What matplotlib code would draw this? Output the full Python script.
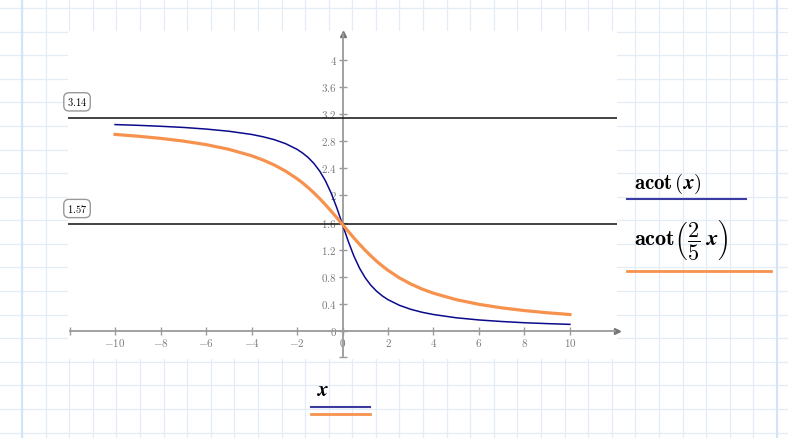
import matplotlib.pyplot as plt

plt.rcParams['mathtext.fontset'] = 'cm'
plt.rcParams['font.family'] = 'DejaVu Serif'

# values
x_vals = [-10, -9, -8, -7, -6, -5, -4, -3.5, -3, -2.5, -2, -1.75, -1.5, -1.25, -1, -0.75, -0.5, -0.25,
          0, 0.25, 0.5, 0.75, 1, 1.25, 1.5, 1.75, 2, 2.5, 3, 3.5, 4, 5, 6, 7, 8, 9, 10]
acot_x = [3.042, 3.031, 3.017, 3.000, 2.976, 2.944, 2.897, 2.863, 2.820, 2.761, 2.678, 2.622, 2.554,
          2.467, 2.356, 2.214, 2.034, 1.816,
          1.571, 1.326, 1.107, 0.927, 0.785, 0.675, 0.588, 0.519, 0.464, 0.381, 0.322, 0.278, 0.245,
          0.197, 0.165, 0.142, 0.124, 0.111, 0.100]
acot_2x5 = [2.897, 2.871, 2.839, 2.799, 2.747, 2.678, 2.583, 2.521, 2.447, 2.356, 2.245, 2.182, 2.111,
            2.034, 1.951, 1.862, 1.768, 1.671,
            1.571, 1.471, 1.373, 1.279, 1.190, 1.107, 1.030, 0.960, 0.896, 0.785, 0.695, 0.620, 0.559,
            0.464, 0.395, 0.343, 0.303, 0.271, 0.245]

x_ticks = [-10, -8, -6, -4, -2, 0, 2, 4, 6, 8, 10]
x_tick_labels = ['$-10$', '$-8$', '$-6$', '$-4$', '$-2$', '$0$', '$2$', '$4$', '$6$', '$8$', '$10$']
y_ticks = [0, 0.4, 0.8, 1.2, 1.6, 2, 2.4, 2.8, 3.2, 3.6, 4]
y_tick_labels = ['$0$', '$0.4$', '$0.8$', '$1.2$', '$1.6$', '$2$', '$2.4$', '$2.8$', '$3.2$', '$3.6$', '$4$']

limit_vals = [3.14159, 1.5708]
limit_labels = ['3.14', '1.57']

blue = '#0a0a8c'
orange = '#f7924e'
axis_gray = '#9a9a9a'

fig = plt.figure(figsize=(7.88, 4.38), dpi=100)

# worksheet grid behind everything (pixel coords)
bg = fig.add_axes([0, 0, 1, 1])
bg.set_xlim(0, 788)
bg.set_ylim(438, 0)
bg.axis('off')
step = 755 / 32
for k in range(33):
    bg.axvline(22 + k * step, color='#e3ecf7', lw=0.9, zorder=0)
k = 0
while 8 + k * 23.59 < 438:
    bg.axhline(8 + k * 23.59, color='#e3ecf7', lw=0.9, zorder=0)
    k += 1
bg.axvline(22, color='#d2e4f7', lw=1.5, zorder=0)
bg.axvline(777, color='#d2e4f7', lw=1.5, zorder=0)

# plot region
ax = fig.add_axes([68 / 788, (438 - 359) / 438, 549 / 788, 328 / 438])
ax.set_facecolor('white')
ax.set_xlim(-12.07, 12.07)
ax.set_ylim(-0.41, 4.42)

for side in ['top', 'right']:
    ax.spines[side].set_visible(False)
ax.spines['left'].set_position(('data', 0))
ax.spines['bottom'].set_position(('data', 0))
ax.spines['left'].set_bounds(-0.38, 4.37)
ax.spines['bottom'].set_bounds(-11.98, 11.98)
for side in ['left', 'bottom']:
    ax.spines[side].set_color(axis_gray)
    ax.spines[side].set_linewidth(1.3)

ax.set_xticks(x_ticks)
ax.set_xticklabels(x_tick_labels)
ax.set_yticks(y_ticks)
ax.set_yticklabels(y_tick_labels)
ax.set_xticks([-11.98], minor=True)
ax.set_yticks([-0.38], minor=True)
ax.tick_params(which='both', direction='inout', length=6, width=1, color=axis_gray,
               labelcolor='#7a7a7a', labelsize=8, pad=1)

# arrow heads
ax.plot(1, 0, '>', color='#777777', ms=5, transform=ax.get_yaxis_transform(), clip_on=False)
ax.plot(0, 4.37, '^', color='#777777', ms=5, clip_on=False)

for val, lab in zip(limit_vals, limit_labels):
    ax.axhline(val, color='#222222', lw=1.2, zorder=3)
    ax.annotate(r'$\mathbf{' + lab + '}$', xy=(0, val), xycoords=ax.get_yaxis_transform(),
                xytext=(6.5, 11.5), textcoords='offset points', ha='center', va='center',
                fontsize=7.5, annotation_clip=False,
                bbox=dict(boxstyle='round,pad=0.3,rounding_size=0.5', fc='white', ec='#999999', lw=1))

ax.plot(x_vals, acot_x, color=blue, lw=1.1, zorder=4)
ax.plot(x_vals, acot_2x5, color=orange, lw=2.3, zorder=4)

# legend on the right
bg.text(634, 184, r'$\mathbf{acot}\,(\boldsymbol{x})$', fontsize=15, va='center', ha='left')
bg.plot([627, 746], [199, 199], color='#3c3ca0', lw=1.5)
bg.text(634, 240, r'$\mathbf{acot}\left(\dfrac{\mathbf{2}}{\mathbf{5}}\;\boldsymbol{x}\right)$',
        fontsize=16, va='center', ha='left')
bg.plot([627, 771], [271, 271], color=orange, lw=2)

# x label
bg.text(323, 391, r'$\boldsymbol{x}$', fontsize=15, va='center', ha='center')
bg.plot([311, 370], [407, 407], color='#3c3ca0', lw=1.5)
bg.plot([311, 370], [414, 414], color=orange, lw=2)

fig.savefig('out.png', dpi=100)
